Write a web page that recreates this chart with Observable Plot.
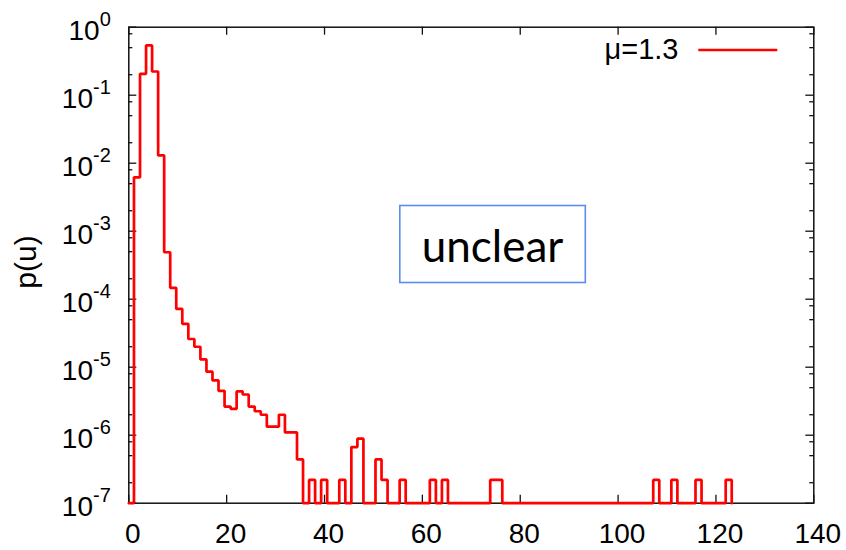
<!DOCTYPE html>
<html><head><meta charset="utf-8">
<script src="https://cdn.jsdelivr.net/npm/d3@7"></script>
<script src="https://cdn.jsdelivr.net/npm/@observablehq/plot@0.6"></script>
<style>
html,body{margin:0;padding:0;background:#fff;}
#chart{position:relative;width:846px;height:550px;}
</style></head><body><div id="chart"></div>
<script>
// ---- data ----
const binStart = 1.06;   // left edge of the first histogram bin (u)
const binWidth = 1.234;  // histogram bin width (u)
// p(u) per bin, 0 = empty bin (drawn on the bottom border)
const pValues = [
  6.2e-3, 0.206, 0.54, 0.223, 0.013, 4.9e-4, 1.47e-4, 7.2e-5, 4.35e-5, 2.6e-5,
  2.0e-5, 1.3e-5, 8.6e-6, 6.4e-6, 4.5e-6, 2.64e-6, 2.44e-6, 4.4e-6, 3.97e-6, 2.64e-6,
  2.25e-6, 2.0e-6, 1.34e-6, 1.34e-6, 2.0e-6, 1.1e-6, 1.1e-6, 4.4e-7, 0, 2.2e-7,
  0, 2.2e-7, 0, 0, 2.2e-7, 0, 6.7e-7, 8.9e-7, 0, 0,
  4.4e-7, 2.2e-7, 0, 0, 2.2e-7, 0, 0, 0, 0, 2.2e-7,
  0, 2.2e-7, 0, 0, 0, 0, 0, 0, 0, 2.2e-7,
  2.2e-7, 0, 0, 0, 0, 0, 0, 0, 0, 0,
  0, 0, 0, 0, 0, 0, 0, 0, 0, 0,
  0, 0, 0, 0, 0, 0, 2.2e-7, 0, 0, 2.2e-7,
  0, 0, 0, 2.2e-7, 0, 0, 0, 0, 2.2e-7
];
const xTicks = [0, 20, 40, 60, 80, 100, 120, 140];
const yExponents = [0, -1, -2, -3, -4, -5, -6, -7];
const yMinorMultipliers = [2, 5, 8];
const legendLabel = "μ=1.3";
const yLabel = "p(u)";
const noteText = "unclear";

// ---- derived tables ----
const yMin = 1e-7, yMax = 1;
const yTicks = yExponents.map(e => Math.pow(10, e));
const yMinor = [];
yExponents.forEach(e => yMinorMultipliers.forEach(m => {
  const v = m * Math.pow(10, e - 1);
  if (v > yMin && v < yMax) yMinor.push(v);
}));
const steps = [{u: 0, p: yMin}];
pValues.forEach((v, i) => steps.push({u: binStart + i * binWidth, p: v > 0 ? v : yMin}));
steps.push({u: binStart + pValues.length * binWidth, p: yMin});

const W = 846, H = 550;
const mL = 128.3, mR = 32.7, mT = 26.7, mB = 47.3;
const pw = W - mL - mR, ph = H - mT - mB;
const majorLen = 8, minorLen = 4;
const font = "Liberation Sans, Arial, Helvetica, sans-serif";

const chart = Plot.plot({
  width: W, height: H,
  marginLeft: mL, marginRight: mR, marginTop: mT, marginBottom: mB,
  style: {fontFamily: font, fontSize: "28px", background: "white", color: "black", overflow: "visible"},
  x: {domain: [0, 140], axis: null, label: null},
  y: {type: "log", domain: [yMin, yMax], axis: null, label: null},
  marks: [
    Plot.frame({stroke: "#111", strokeWidth: 1.5}),
    Plot.tickX(xTicks, {x: d => d, insetTop: ph - majorLen, stroke: "#111", strokeWidth: 1.3}),
    Plot.tickX(xTicks, {x: d => d, insetBottom: ph - majorLen, stroke: "#111", strokeWidth: 1.3}),
    Plot.tickY(yTicks, {y: d => d, insetRight: pw - majorLen, stroke: "#111", strokeWidth: 1.3}),
    Plot.tickY(yTicks, {y: d => d, insetLeft: pw - majorLen, stroke: "#111", strokeWidth: 1.3}),
    Plot.tickY(yMinor, {y: d => d, insetRight: pw - minorLen, stroke: "#111", strokeWidth: 1.3}),
    Plot.tickY(yMinor, {y: d => d, insetLeft: pw - minorLen, stroke: "#111", strokeWidth: 1.3}),
    Plot.axisX({ticks: xTicks, label: null, tickSize: 0, tickPadding: 20, dx: 4, tickFormat: d => String(d), fontSize: 28}),
    Plot.axisY({ticks: yTicks, label: null, tickSize: 0, tickPadding: 18, dy: 4, tickFormat: d => "10|" + Math.round(Math.log10(d)), fontSize: 28}),
    Plot.line(steps, {x: "u", y: "p", curve: "step-after", stroke: "#ff0000", strokeWidth: 2.7, strokeLinejoin: "miter"})
  ]
});

const svg = d3.select(chart);
// superscript exponents on the y tick labels
svg.selectAll('g[aria-label="y-axis tick label"] text').each(function() {
  const parts = this.textContent.split("|");
  const t = d3.select(this);
  t.text(null);
  t.append("tspan").text(parts[0]);
  t.append("tspan").attr("font-size", 20).attr("dy", -14).text(parts[1]);
});
// y label
svg.append("text")
  .attr("transform", `translate(36,262) rotate(-90)`)
  .attr("text-anchor", "middle")
  .attr("font-family", font).attr("font-size", 30)
  .text(yLabel);
// legend
svg.append("text")
  .attr("x", 678.5).attr("y", 59)
  .attr("text-anchor", "end")
  .attr("font-family", font).attr("font-size", 29)
  .text(legendLabel);
svg.append("line")
  .attr("x1", 698.3).attr("x2", 777.3).attr("y1", 50).attr("y2", 50)
  .attr("stroke", "#ff0000").attr("stroke-width", 2.7);
// annotation box
svg.append("rect")
  .attr("x", 399.8).attr("y", 205.5).attr("width", 185.5).attr("height", 77)
  .attr("fill", "white").attr("stroke", "#5b8ef0").attr("stroke-width", 1.6);
svg.append("text")
  .attr("x", 492.5).attr("y", 262)
  .attr("text-anchor", "middle")
  .attr("font-family", "Lato, 'Open Sans', sans-serif").attr("font-size", 44)
  .attr("fill", "black")
  .text(noteText);

document.getElementById("chart").appendChild(chart);
</script>
</body></html>
